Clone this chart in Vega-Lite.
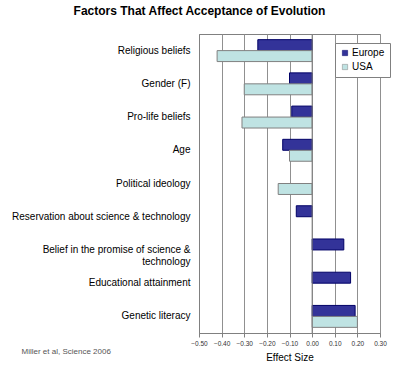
{
  "$schema": "https://vega.github.io/schema/vega-lite/v6.json",
  "width": 181,
  "height": 299,
  "autosize": {"type": "none"},
  "padding": {"left": 199, "top": 34, "right": 20, "bottom": 36},
  "background": "white",
  "config": {
    "font": "Liberation Sans",
    "view": {"stroke": "#808080", "strokeWidth": 1}
  },
  "title": {
    "text": "Factors That Affect Acceptance of Evolution",
    "fontSize": 12,
    "fontWeight": "bold",
    "color": "#000000",
    "anchor": "middle",
    "frame": "group",
    "dx": -90,
    "offset": 16
  },
  "data": {
    "values": [
      {"factor": "Religious beliefs", "region": "Europe", "effect": -0.24},
      {"factor": "Religious beliefs", "region": "USA", "effect": -0.42},
      {"factor": "Gender (F)", "region": "Europe", "effect": -0.10},
      {"factor": "Gender (F)", "region": "USA", "effect": -0.30},
      {"factor": "Pro-life beliefs", "region": "Europe", "effect": -0.09},
      {"factor": "Pro-life beliefs", "region": "USA", "effect": -0.31},
      {"factor": "Age", "region": "Europe", "effect": -0.13},
      {"factor": "Age", "region": "USA", "effect": -0.10},
      {"factor": "Political ideology", "region": "USA", "effect": -0.15},
      {"factor": "Reservation about science & technology", "region": "Europe", "effect": -0.07},
      {"factor": "Belief in the promise of science & technology", "region": "Europe", "effect": 0.14},
      {"factor": "Educational attainment", "region": "Europe", "effect": 0.17},
      {"factor": "Genetic literacy", "region": "Europe", "effect": 0.19},
      {"factor": "Genetic literacy", "region": "USA", "effect": 0.20}
    ]
  },
  "layer": [
    {
      "mark": {"type": "bar", "strokeWidth": 1},
      "encoding": {
        "y": {
          "field": "factor",
          "type": "nominal",
          "sort": ["Religious beliefs", "Gender (F)", "Pro-life beliefs", "Age", "Political ideology", "Reservation about science & technology", "Belief in the promise of science & technology", "Educational attainment", "Genetic literacy"],
          "scale": {"paddingInner": 0.34, "paddingOuter": 0.17},
          "axis": {
            "title": "Miller et al, Science 2006",
            "titleAngle": 0,
            "titleAlign": "left",
            "titleBaseline": "middle",
            "titleX": -178,
            "titleY": 317,
            "titleFontSize": 8,
            "titleFontWeight": "normal",
            "titleColor": "#555555",
            "labelFontSize": 10,
            "labelColor": "#000000",
            "labelPadding": 9,
            "labelLimit": 200,
            "labelExpr": "datum.value == 'Belief in the promise of science & technology' ? ['Belief in the promise of science &', 'technology'] : datum.value",
            "ticks": false,
            "domainColor": "#808080",
            "grid": false
          }
        },
        "yOffset": {"field": "region", "type": "nominal", "sort": ["Europe", "USA"]},
        "x": {
          "field": "effect",
          "type": "quantitative",
          "scale": {"domain": [-0.5, 0.3], "nice": false, "zero": false},
          "axis": {
            "title": "Effect Size",
            "titleFontSize": 10,
            "titleFontWeight": "normal",
            "titleColor": "#000000",
            "titlePadding": 6,
            "values": [-0.5, -0.4, -0.3, -0.2, -0.1, 0, 0.1, 0.2, 0.3],
            "tickCount": 12,
            "format": ".2f",
            "labelOverlap": false,
            "labelFlush": false,
            "labelFontSize": 6.5,
            "labelColor": "#333333",
            "labelPadding": 3,
            "tickSize": 4,
            "tickColor": "#808080",
            "domainColor": "#808080",
            "grid": true,
            "gridColor": "#909090",
            "gridWidth": 1
          }
        },
        "color": {
          "field": "region",
          "type": "nominal",
          "scale": {"domain": ["Europe", "USA"], "range": ["#333399", "#bfe3e3"]},
          "legend": {
            "title": null,
            "orient": "none",
            "legendX": 136,
            "legendY": 9,
            "symbolType": "square",
            "symbolSize": 28,
            "symbolStrokeColor": "#333333",
            "symbolStrokeWidth": 0.5,
            "labelOffset": 2,
            "labelFontSize": 10,
            "labelColor": "#000000",
            "rowPadding": 4,
            "strokeColor": "#808080",
            "fillColor": "white",
            "padding": 5
          }
        },
        "stroke": {
          "field": "region",
          "type": "nominal",
          "scale": {"domain": ["Europe", "USA"], "range": ["#000066", "#808080"]},
          "legend": null
        }
      }
    },
    {
      "data": {"values": [{"zero": 0}]},
      "mark": {"type": "rule", "color": "#808080", "strokeWidth": 1},
      "encoding": {"x": {"field": "zero", "type": "quantitative"}}
    }
  ]
}
